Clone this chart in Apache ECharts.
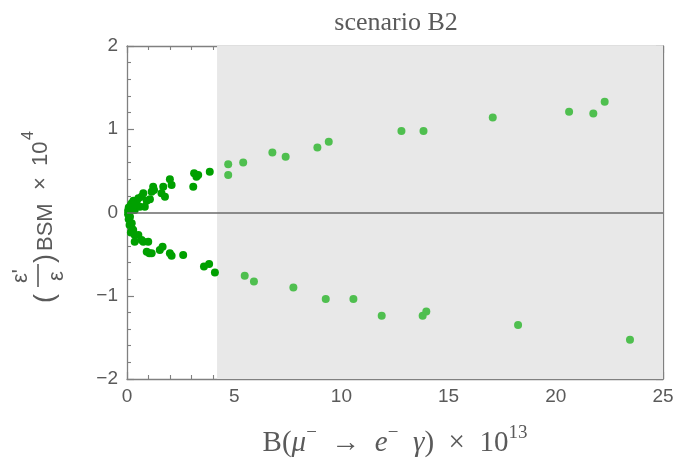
<!DOCTYPE html>
<html>
<head>
<meta charset="utf-8">
<script src="https://cdn.jsdelivr.net/npm/echarts@6/dist/echarts.min.js"></script>
<style>
  html, body { margin: 0; padding: 0; background: #fff; }
  #chart { width: 678px; height: 464px; }
</style>
</head>
<body>
<div id="chart"></div>
<script>
// Upper branch: positive BSM contribution, [B x 1e13, eps'/eps x 1e4]
const upperBranch = [
  [0.05, 0.02], [0.08, 0.06], [0.14, 0.03], [0.18, 0.09], [0.22, 0.11], [0.29, 0.07],
  [0.3, 0.14], [0.36, 0.03], [0.4, 0.09], [0.45, 0.13], [0.53, 0.17], [0.6, 0.07],
  [0.68, 0.19], [0.76, 0.23], [0.83, 0.07], [0.92, 0.14], [1.07, 0.16], [1.15, 0.25],
  [1.22, 0.31], [1.26, 0.27], [1.61, 0.23], [1.69, 0.31], [1.77, 0.19], [2.0, 0.40],
  [2.08, 0.33], [3.09, 0.31], [3.13, 0.47], [3.24, 0.43], [3.32, 0.45], [3.86, 0.49],
  [4.72, 0.58], [4.72, 0.45], [5.42, 0.60], [6.78, 0.72], [7.4, 0.67], [8.88, 0.78],
  [9.41, 0.85], [12.8, 0.98], [13.83, 0.98], [17.06, 1.14], [20.62, 1.21],
  [21.75, 1.19], [22.28, 1.33]
];

// Lower branch: negative BSM contribution
const lowerBranch = [
  [0.05, -0.02], [0.08, -0.08], [0.12, -0.15], [0.14, -0.05], [0.18, -0.24],
  [0.22, -0.13], [0.25, -0.2], [0.29, -0.21], [0.36, -0.27], [0.36, -0.35],
  [0.53, -0.27], [0.68, -0.33], [0.76, -0.35], [0.99, -0.35], [0.92, -0.47],
  [1.04, -0.49], [1.15, -0.49], [1.53, -0.45], [1.66, -0.41], [2.0, -0.49],
  [2.08, -0.52], [2.62, -0.51], [3.59, -0.65], [3.83, -0.62], [4.1, -0.72],
  [5.49, -0.76], [5.92, -0.83], [7.76, -0.90], [9.27, -1.04], [10.56, -1.04],
  [11.88, -1.24], [13.79, -1.24], [13.96, -1.19], [18.24, -1.35], [23.46, -1.53]
];

// Experimentally excluded region of B(mu -> e gamma)
const excludedFrom = 4.2;
const xRange = [0, 25];
const yRange = [-2, 2];
const xTicks = [0, 5, 10, 15, 20, 25];
const yTicks = [-2, -1, 0, 1, 2];

const darkGreen = '#00a000';
const lightGreen = '#4fbf4f';
const frameColor = '#808080';
const textColor = '#5a5a5a';

const chart = echarts.init(document.getElementById('chart'), null, { renderer: 'canvas' });

const axisCommon = {
  axisLine: { show: true, onZero: false, lineStyle: { color: frameColor, width: 1.3 } },
  axisTick: { show: true, inside: true, length: 7, lineStyle: { color: frameColor, width: 1.2 } },
  minorTick: { show: true, splitNumber: 5, length: 4, lineStyle: { color: frameColor, width: 1.1 } },
  splitLine: { show: false }
};

const fmtMinus = v => (v < 0 ? '\u2212' + Math.abs(v) : String(v));

const option = {
  animation: false,
  backgroundColor: '#ffffff',
  grid: { left: 127, right: 15, top: 46, bottom: 85, containLabel: false },
  xAxis: [
    Object.assign({
      type: 'value', position: 'bottom', min: xRange[0], max: xRange[1], interval: 5,
      axisLabel: {
        show: true, margin: 8, color: textColor, fontSize: 19, fontFamily: 'Liberation Sans',
        formatter: v => (xTicks.includes(v) ? String(v) : '')
      }
    }, axisCommon),
    Object.assign({
      type: 'value', position: 'top', min: xRange[0], max: xRange[1], interval: 5,
      axisLabel: { show: false }
    }, axisCommon)
  ],
  yAxis: [
    Object.assign({
      type: 'value', position: 'left', min: yRange[0], max: yRange[1], interval: 1,
      axisLabel: {
        show: true, margin: 9, color: textColor, fontSize: 19, fontFamily: 'Liberation Sans',
        formatter: v => (yTicks.includes(v) ? fmtMinus(v) : '')
      }
    }, axisCommon),
    Object.assign({
      type: 'value', position: 'right', min: yRange[0], max: yRange[1], interval: 1,
      axisLabel: { show: false }
    }, axisCommon)
  ],
  series: [
    {
      // shaded excluded band
      type: 'scatter', data: [], z: 1, silent: true,
      markArea: {
        silent: true,
        itemStyle: { color: '#e8e8e8' },
        data: [[{ xAxis: excludedFrom, yAxis: yRange[0] }, { xAxis: xRange[1], yAxis: yRange[1] }]]
      }
    },
    {
      // zero reference line
      type: 'scatter', data: [], z: 2, silent: true,
      markLine: {
        silent: true, symbol: ['none', 'none'], label: { show: false },
        lineStyle: { color: '#6a6a6a', width: 1.6, type: 'solid' },
        data: [{ yAxis: 0 }]
      }
    },
    {
      name: 'upper', type: 'scatter', z: 3, symbol: 'circle', symbolSize: 8,
      data: upperBranch,
      itemStyle: { opacity: 1, color: p => (p.value[0] >= excludedFrom ? lightGreen : darkGreen) }
    },
    {
      name: 'lower', type: 'scatter', z: 3, symbol: 'circle', symbolSize: 8,
      data: lowerBranch,
      itemStyle: { opacity: 1, color: p => (p.value[0] >= excludedFrom ? lightGreen : darkGreen) }
    }
  ],
  graphic: [
    {
      type: 'text', x: 396, y: 23,
      style: {
        text: 'scenario B2', fill: textColor, font: '26px "Liberation Serif"',
        align: 'center', verticalAlign: 'middle'
      }
    },
    {
      type: 'text', x: 395, y: 441,
      style: {
        text: '{n|B(}{i|\u03bc}{s|\u2212}{n|  \u2192  }{i|e}{s|\u2212}{n|  }{i|\u03b3}{n|)  \u00d7  10}{s|13}',
        align: 'center', verticalAlign: 'middle', fill: textColor,
        rich: {
          n: { fontSize: 29, fontFamily: 'Liberation Serif', color: textColor, lineHeight: 34, verticalAlign: 'bottom' },
          i: { fontSize: 29, fontFamily: 'Liberation Serif', fontStyle: 'italic', color: textColor, lineHeight: 34, verticalAlign: 'bottom' },
          s: { fontSize: 19, fontFamily: 'Liberation Serif', color: textColor, lineHeight: 17, verticalAlign: 'top' }
        }
      }
    },
    {
      // rotated y-axis title: (eps'/eps)_BSM x 10^4
      type: 'group', x: 0, y: 303, rotation: Math.PI / 2,
      children: [
        { type: 'text', x: 0, y: 46, style: { text: '(', fill: textColor, font: '27px "Liberation Sans"', verticalAlign: 'middle' } },
        { type: 'text', x: 20, y: 21, style: { text: '\u03b5\'', fill: textColor, font: '22px "Liberation Sans"', verticalAlign: 'middle' } },
        { type: 'line', shape: { x1: 16, y1: 38, x2: 39, y2: 38 }, style: { stroke: textColor, lineWidth: 1.6 } },
        { type: 'text', x: 22, y: 57, style: { text: '\u03b5', fill: textColor, font: '22px "Liberation Sans"', verticalAlign: 'middle' } },
        { type: 'text', x: 40, y: 46, style: { text: ')', fill: textColor, font: '27px "Liberation Sans"', verticalAlign: 'middle' } },
        { type: 'text', x: 52, y: 46, style: { text: 'BSM', fill: textColor, font: '22px "Liberation Sans"', verticalAlign: 'middle' } },
        { type: 'text', x: 113, y: 41, style: { text: '\u00d7', fill: textColor, font: '22px "Liberation Sans"', verticalAlign: 'middle' } },
        { type: 'text', x: 137, y: 41, style: { text: '10', fill: textColor, font: '22px "Liberation Sans"', verticalAlign: 'middle' } },
        { type: 'text', x: 163, y: 29, style: { text: '4', fill: textColor, font: '16px "Liberation Sans"', verticalAlign: 'middle' } }
      ]
    }
  ]
};

chart.setOption(option);
</script>
</body>
</html>
